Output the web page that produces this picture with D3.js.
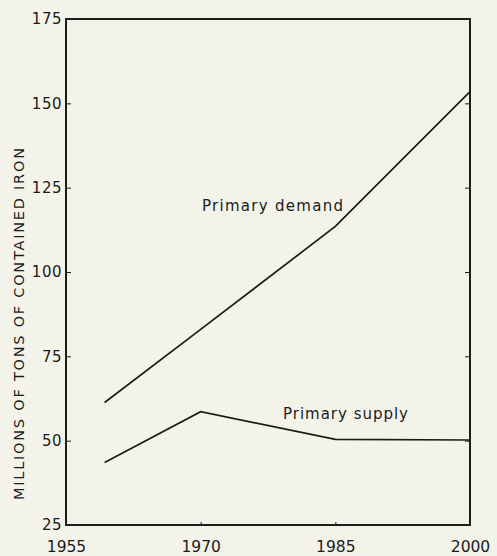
<!DOCTYPE html>
<style>
  body { margin: 0; background: #f3f3ea; }
  svg { font-family: "DejaVu Sans", sans-serif; }
</style>
<svg width="497" height="556"></svg>
<script src="https://d3js.org/d3.v7.min.js"></script>
<script>

  // values
  var years = [1959.3, 1970, 1985, 2000];
  var demand = [61.3, 83, 113.5, 153.5];
  var supply = [43.5, 58.6, 50.4, 50.2];
  var xTicks = [1955, 1970, 1985, 2000];
  var yTicks = [25, 50, 75, 100, 125, 150, 175];

  var svg = d3.select("svg"),
    ink = "#1b1b1b";

  var x = d3.scaleLinear().domain([1955, 2000]).range([66, 470]),
    y = d3.scaleLinear().domain([25, 175]).range([525, 19]);

  var left = svg.append("g")
    .attr("transform", "translate(66,0)")
    .call(d3.axisLeft(y).tickValues(yTicks).tickSize(-5).tickPadding(4));

  var right = svg.append("g")
    .attr("transform", "translate(470,0)")
    .call(d3.axisRight(y).tickValues(yTicks.slice(1, -1)).tickSize(-5).tickFormat(""));

  var bottom = svg.append("g")
    .attr("transform", "translate(0,525)")
    .call(d3.axisBottom(x).tickValues(xTicks).tickSize(-3).tickPadding(16).tickFormat(d3.format("d")));

  [left, right, bottom].forEach(function (g) {
    g.select(".domain").remove();
    g.selectAll("line").attr("stroke", ink).attr("stroke-width", 1);
    g.selectAll("text").attr("fill", ink).attr("font-size", 15.5).attr("font-family", "DejaVu Sans, sans-serif");
  });
  left.selectAll("text").attr("font-size", 15).attr("letter-spacing", 0.5);

  // frame
  svg.append("rect")
    .attr("x", x(1955)).attr("y", y(175))
    .attr("width", x(2000) - x(1955)).attr("height", y(25) - y(175))
    .attr("fill", "none").attr("stroke", ink).attr("stroke-width", 2);

  var line = d3.line()
    .x(function (d) { return x(d[0]); })
    .y(function (d) { return y(d[1]); });

  [demand, supply].forEach(function (s) {
    svg.append("path")
      .datum(d3.zip(years, s))
      .attr("d", line)
      .attr("fill", "none")
      .attr("stroke", ink)
      .attr("stroke-width", 1.7);
  });

  svg.append("text")
    .attr("x", 202).attr("y", 211)
    .attr("font-size", 15).attr("fill", ink)
    .attr("textLength", 141).attr("lengthAdjust", "spacing")
    .text("Primary demand");

  svg.append("text")
    .attr("x", 283).attr("y", 419)
    .attr("font-size", 15).attr("fill", ink)
    .attr("textLength", 125).attr("lengthAdjust", "spacing")
    .text("Primary supply");

  svg.append("text")
    .attr("transform", "translate(24,324) rotate(-90)")
    .attr("text-anchor", "middle")
    .attr("font-size", 14.5).attr("fill", ink)
    .attr("textLength", 352).attr("lengthAdjust", "spacing")
    .text("MILLIONS OF TONS OF CONTAINED IRON");

</script>
